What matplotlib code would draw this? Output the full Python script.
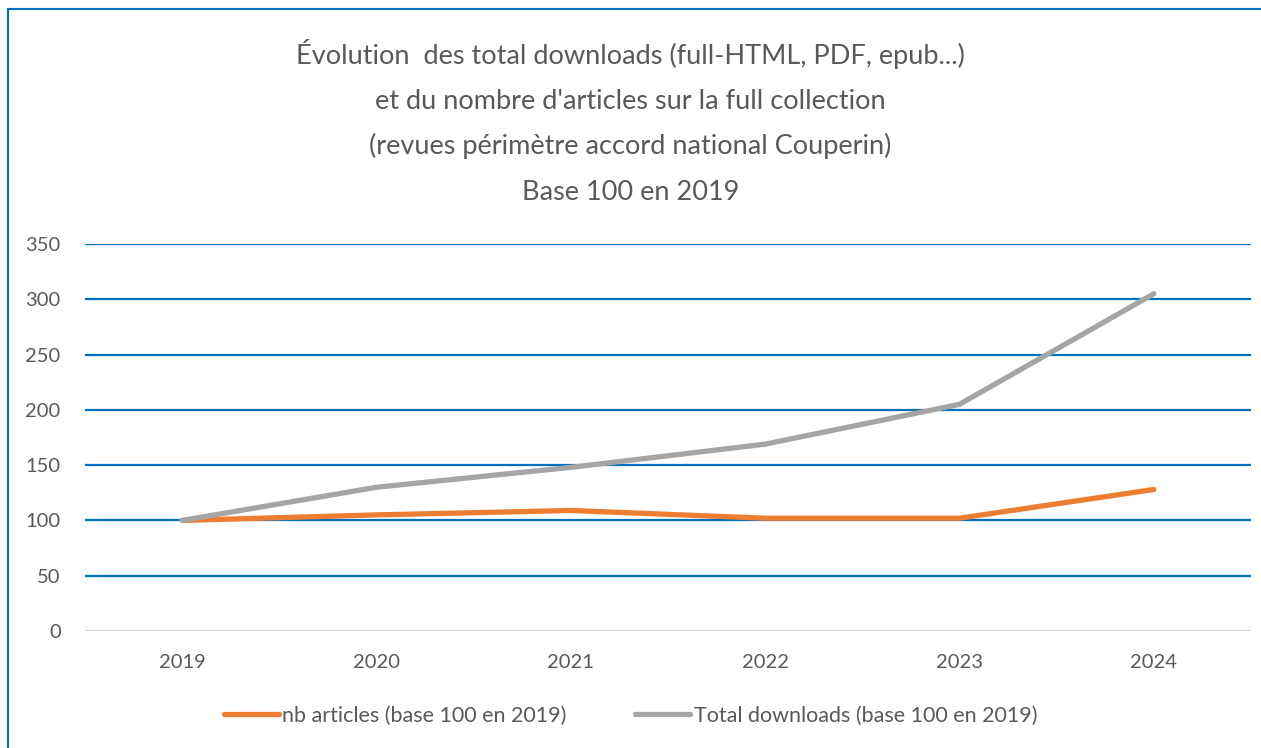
import matplotlib.pyplot as plt
from matplotlib.patches import Rectangle

years = ["2019", "2020", "2021", "2022", "2023", "2024"]
nb_articles = [100, 105, 109, 102, 102, 128]
total_downloads = [100, 130, 148, 169, 205, 305]
yticks = [0, 50, 100, 150, 200, 250, 300, 350]

title_lines = ["Évolution  des total downloads (full-HTML, PDF, epub...)",
               "et du nombre d'articles sur la full collection",
               "(revues périmètre accord national Couperin)",
               "Base 100 en 2019"]

plt.rcParams['font.family'] = ['Lato', 'DejaVu Sans']
txt = '#595959'

fig = plt.figure(figsize=(12.61, 7.48), dpi=100)
ax = fig.add_axes([85 / 1261, 1 - 631 / 748, 1166 / 1261, 387 / 748])

x = list(range(len(years)))
ax.plot(x, nb_articles, color='#ED7D31', lw=3.8, solid_capstyle='round',
        label='nb articles (base 100 en 2019)', zorder=3)
ax.plot(x, total_downloads, color='#A5A5A5', lw=3.8, solid_capstyle='round',
        label='Total downloads (base 100 en 2019)', zorder=3)

ax.set_xlim(-0.5, 5.5)
ax.set_ylim(0, 350)
ax.set_xticks(x)
ax.set_xticklabels(years)
ax.set_yticks(yticks)
for y in yticks[1:]:
    ax.axhline(y, color='#0070C0', lw=1.6, zorder=1)
ax.axhline(0, color='#D9D9D9', lw=1.6, zorder=1)
for s in ax.spines.values():
    s.set_visible(False)
ax.tick_params(length=0, labelsize=14.5, colors=txt)
ax.tick_params(axis='x', pad=16.5)
ax.tick_params(axis='y', pad=17.5)

# title lines placed one by one (Excel spacing)
for i, line in enumerate(title_lines):
    fig.text(0.5, 1 - (64 + 45.2 * i) / 748, line, ha='center', va='baseline',
             fontsize=19.5, color=txt)

fig.legend(loc='center', bbox_to_anchor=(0.5, 1 - 716 / 748), ncol=2, frameon=False,
           fontsize=15.5, labelcolor=txt, handlelength=2.55, handletextpad=0.15,
           columnspacing=3.2)

fig.patches.append(Rectangle((8 / 1261, -0.1), 1.2, 1 - 9 / 748 + 0.1,
                             transform=fig.transFigure, fill=False,
                             edgecolor='#0070C0', lw=1.5))

fig.savefig('out.png', dpi=100)
